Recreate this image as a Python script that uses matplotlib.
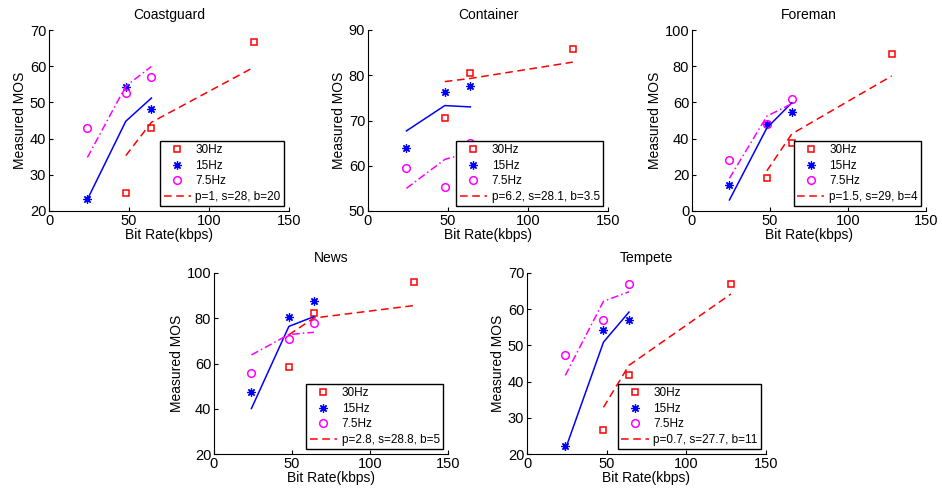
import matplotlib
matplotlib.use('Agg')
import matplotlib.pyplot as plt

plt.rcParams['font.family'] = ['Liberation Sans', 'DejaVu Sans']

# bit rates (kbps)
rates_30 = [48, 64, 128]
rates_low = [24, 48, 64]

titles = ['Coastguard', 'Container', 'Foreman', 'News', 'Tempete']

# measured MOS
mos_30 = [[25.0, 43.0, 66.7], [70.6, 80.5, 85.9], [18.1, 37.8, 86.7],
          [58.3, 82.3, 95.9], [26.5, 41.8, 66.9]]
mos_15 = [[23.3, 54.2, 48.3], [64.0, 76.4, 77.7], [14.3, 47.8, 54.6],
          [47.4, 80.7, 87.8], [22.3, 54.3, 57.0]]
mos_75 = [[42.9, 52.6, 56.9], [59.6, 55.3, 65.1], [28.0, 48.0, 61.7],
          [55.7, 70.8, 77.9], [47.3, 57.1, 66.9]]

# model predictions
fit_30 = [[35.3, 44.5, 59.7], [78.6, 79.3, 82.9], [22.2, 42.6, 74.6],
          [72.7, 80.1, 85.6], [32.9, 44.5, 64.2]]
fit_15 = [[23.2, 44.8, 51.2], [67.7, 73.3, 73.0], [6.1, 45.9, 59.8],
          [40.1, 76.4, 80.7], [21.2, 50.9, 59.2]]
fit_75 = [[34.8, 54.5, 59.9], [55.0, 61.4, 63.0], [18.1, 52.4, 59.3],
          [63.8, 72.8, 73.8], [41.7, 62.2, 64.8]]

params = ['p=1, s=28, b=20', 'p=6.2, s=28.1, b=3.5', 'p=1.5, s=29, b=4',
          'p=2.8, s=28.8, b=5', 'p=0.7, s=27.7, b=11']

ylims = [(20, 70), (50, 90), (0, 100), (20, 100), (20, 70)]
yticks = [range(20, 71, 10), range(50, 91, 10), range(0, 101, 20),
          range(20, 101, 20), range(20, 71, 10)]

W, H = 942, 492
# axes boxes in pixels: left, top, right, bottom
boxes = [(49, 30, 289, 211), (368, 30, 608, 211), (692, 30, 926, 211),
         (214, 273, 448, 454), (527, 273, 766, 454)]

fig = plt.figure(figsize=(W / 100, H / 100), dpi=100)

for i in range(5):
    l, t, r, b = boxes[i]
    ax = fig.add_axes([l / W, 1 - b / H, (r - l) / W, (b - t) / H])

    ax.plot(rates_30, mos_30[i], 's', color='red', mfc='none', ms=4.5, mew=1.1, label='30Hz')
    ax.plot(rates_low, mos_15[i], marker=(8, 2, 0), ls='none', color='blue', ms=6, mew=0.9, label='15Hz')
    ax.plot(rates_low, mos_75[i], 'o', color='magenta', mfc='none', ms=5.5, mew=1.1, label='7.5Hz')
    ax.plot(rates_30, fit_30[i], '--', color='red', lw=1.1, dashes=(5, 3), label=params[i])
    ax.plot(rates_low, fit_15[i], '-', color='blue', lw=1.1)
    ax.plot(rates_low, fit_75[i], '-.', color='magenta', lw=1.1, dashes=(5, 2, 1, 2))

    ax.set_xlim(0, 150)
    ax.set_ylim(*ylims[i])
    ax.set_xticks([0, 50, 100, 150])
    ax.set_yticks(list(yticks[i]))
    ax.spines['top'].set_visible(False)
    ax.spines['right'].set_visible(False)
    ax.tick_params(direction='in', length=3, labelsize=10.5, pad=2)
    ax.set_title(titles[i], fontsize=10, pad=8)
    ax.set_xlabel('Bit Rate(kbps)', fontsize=10, labelpad=0)
    ax.set_ylabel('Measured MOS', fontsize=10, labelpad=2)

    leg = ax.legend(loc='lower right', fontsize=8.5, fancybox=False, framealpha=1,
                    edgecolor='black', handlelength=2.3, borderpad=0.3,
                    labelspacing=0.3, handletextpad=0.4, borderaxespad=0.4)
    leg.get_frame().set_linewidth(1.0)

fig.savefig('out.png', dpi=100)
